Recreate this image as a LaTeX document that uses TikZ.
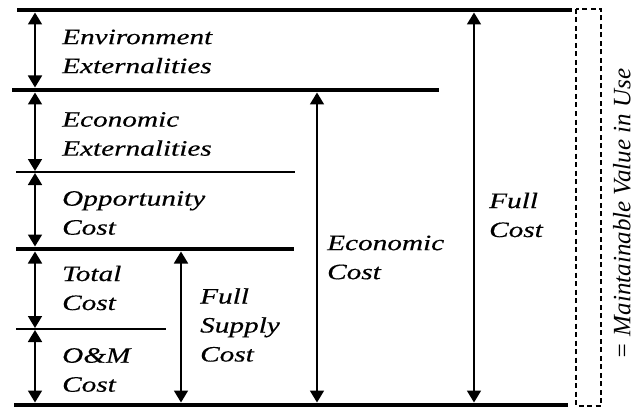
\documentclass[tikz,border=0pt]{standalone}
\usepackage{fontspec}
\usetikzlibrary{arrows.meta}
\newfontfamily\widefont[FakeStretch=1.33,FakeBold=0.4]{Liberation Serif}
\newfontfamily\sidefont{Liberation Serif}
\begin{document}
\begin{tikzpicture}[x=1pt,y=-1pt,
  thickbar/.style={line width=4.5pt},
  thinbar/.style={line width=1.3pt},
  span/.style={line width=1.8pt,{Triangle[width=14pt,length=12pt]}-{Triangle[width=14pt,length=12pt]}},
  lbl/.style={anchor=west,align=left,inner sep=0pt,
    font=\widefont\itshape\fontsize{22}{29}\selectfont},
  sidebox/.style={draw,dashed,line width=1.2pt,dash pattern=on 5pt off 3.5pt}]
\useasboundingbox (0,0) rectangle (636,409);

% horizontal levels
\draw[thickbar] (17,10)  -- (572,10);
\draw[thickbar] (12,90)  -- (439,90);
\draw[thinbar]  (16,172) -- (295,172);
\draw[thickbar] (16,249) -- (294,249);
\draw[thinbar]  (16,329) -- (166,329);
\draw[thickbar] (14,405) -- (568,405);

% end points of the dimension arrows
\coordinate (a0) at (35,12.5);
\coordinate (a1) at (35,87.5);
\coordinate (a2) at (35,92.5);
\coordinate (a3) at (35,171);
\coordinate (a4) at (35,173);
\coordinate (a5) at (35,246.5);
\coordinate (a6) at (35,251.5);
\coordinate (a7) at (35,328);
\coordinate (a8) at (35,330);
\coordinate (a9) at (35,402.5);
\coordinate (fs1) at (181,251.5);
\coordinate (fs2) at (181,402.5);
\coordinate (ec1) at (317,92.5);
\coordinate (ec2) at (317,402.5);
\coordinate (fc1) at (474,12.5);
\coordinate (fc2) at (474,402.5);

\draw[span] (a0) -- (a1);
\draw[span] (a2) -- (a3);
\draw[span] (a4) -- (a5);
\draw[span] (a6) -- (a7);
\draw[span] (a8) -- (a9);
\draw[span] (fs1) -- (fs2);
\draw[span] (ec1) -- (ec2);
\draw[span] (fc1) -- (fc2);

% labels
\node[lbl] (env) at (62,51.5)  {Environment\\Externalities};
\node[lbl] (ecx) at (62,134)   {Economic\\Externalities};
\node[lbl] (opp) at (62,213)   {Opportunity\\Cost};
\node[lbl] (tot) at (62,288)   {Total\\Cost};
\node[lbl] (om)  at (62,370)   {O\&M\\Cost};
\node[lbl] (fsc) at (200,325)  {Full\\Supply\\Cost};
\node[lbl] (ecc) at (327,257.5){Economic\\Cost};
\node[lbl] (fc)  at (489,215)  {Full\\Cost};

% bracket of the total value
\draw[sidebox] (576,9) rectangle (601,406);
\node[rotate=90,inner sep=0pt,font=\sidefont\itshape\fontsize{25}{29}\selectfont]
  (mvu) at (622,214) {= Maintainable Value in Use};
\end{tikzpicture}
\end{document}
